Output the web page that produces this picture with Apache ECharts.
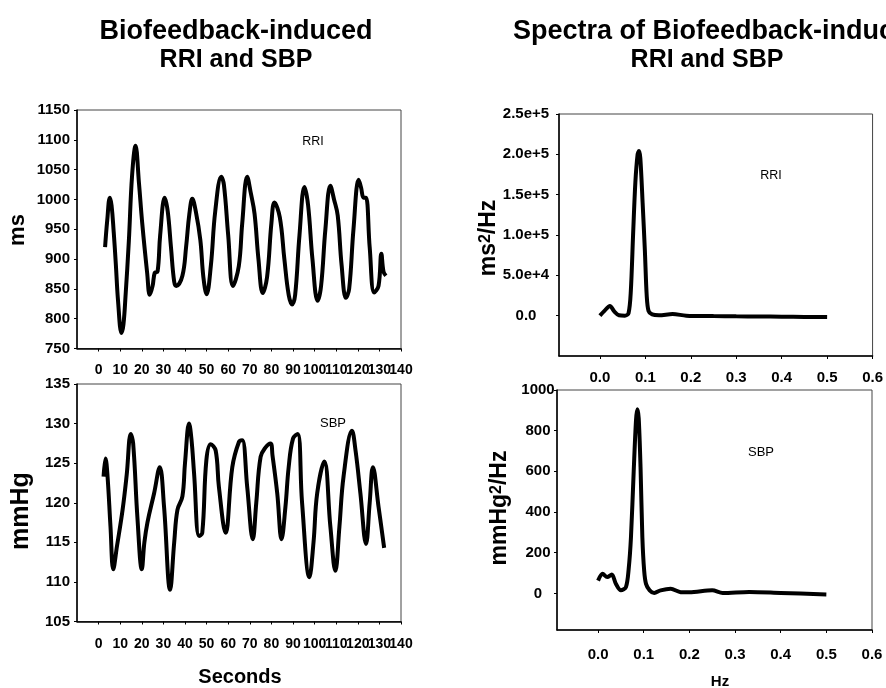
<!DOCTYPE html>
<html>
<head>
<meta charset="utf-8">
<script src="https://cdn.jsdelivr.net/npm/echarts@6/dist/echarts.min.js"></script>
<style>
html,body{margin:0;padding:0;background:#fff;}
#chart{width:886px;height:688px;}
</style>
</head>
<body>
<div id="chart"></div>
<script>
// ---- Data ----
const rriTime = [3,4,5.2,6,7,8,9,10.6,11.5,12.5,14,15.5,17.1,18.7,20.2,22.5,23.7,25,26,27.3,28.5,30.6,32,33.5,35,36,38.8,40.5,42,43.4,45,47.1,48.5,50,52,54,56.8,58,60,62.2,64.9,66.5,68.8,70.5,72.2,74,76,78,80,81.4,83.9,86,88,89.6,91,93,95.3,97,99,101.4,103,105,107.3,109,110.7,112.5,114.5,116,118,120.4,121.5,122.7,123.8,125.5,127.6,129.6,130.9,131.9,133];
const rriMs   = [920,965,1003,990,945,890,830,776,790,840,930,1040,1090,1027,960,876,840,855,877,879,940,1003,980,920,862,855,872,920,975,1001,980,932,870,841,890,980,1038,1025,940,855,888,960,1038,1010,976,900,843,870,960,995,970,900,840,824,840,940,1021,990,900,830,855,950,1023,1000,973,890,835,850,950,1033,1020,1003,1003,920,844,855,909,879,872];

const sbpTime = [2.3,3.2,4.1,5.5,6.8,8.5,11.1,13,14.9,16,18,20,21.2,22.6,25.7,28.3,30.3,33.1,35,36.5,38.8,40,41.9,43,44.2,46.5,48,49.9,51.9,54.2,55.7,58.8,61.9,65,66.5,68.8,71.4,73,75,77.3,79.6,80.5,82.7,84.7,86.5,88,90,92.2,94.2,97.6,99.5,101.2,104.5,107.3,109.6,111.5,113.4,117.3,119,121.2,123.8,125.5,127,129.6,132.2];
const sbpMmHg = [123.3,125.6,123.5,117,111.6,114.5,119.1,123.5,128.7,127.5,118,111.6,115,117.5,121.2,124.5,119.5,109,115,119.1,120.8,125,130,128,123.7,115.8,116.2,125.4,127.4,126.6,122,116.2,124.5,127.7,127.9,122,115.4,120,125.8,127,127.5,126,121.2,115.4,119.5,124.5,128.1,128.7,120,110.6,115,121.2,125.2,117,111.4,117,123.3,129.1,126.5,121.2,114.8,120,124.5,119.5,114.3];

const rriSpecHz  = [0,0.01,0.022,0.032,0.042,0.055,0.063,0.068,0.073,0.078,0.083,0.086,0.089,0.094,0.099,0.103,0.107,0.115,0.13,0.16,0.19,0.25,0.3,0.35,0.4,0.45,0.5];
const rriSpecPow = [0,6000,12000,5000,500,0,3000,30000,100000,165000,200000,204000,195000,140000,80000,25000,6000,1500,500,2000,0,-500,-800,-1000,-1200,-1500,-1800];

const sbpSpecHz  = [0,0.01,0.02,0.03,0.039,0.05,0.061,0.067,0.072,0.078,0.083,0.086,0.089,0.093,0.097,0.101,0.105,0.113,0.123,0.137,0.159,0.181,0.2,0.25,0.273,0.331,0.4,0.5];
const sbpSpecPow = [63,96,80,93,47,15,31,120,275,600,850,905,860,620,275,110,47,15,2,15,23,6,5,15,2,7,2,-5];

const timeTicks = [0,10,20,30,40,50,60,70,80,90,100,110,120,130,140];
const timeLabelsEven = [0,20,40,60,80,100,120,140];
const timeLabelsOdd = [10,30,50,70,90,110,130];
const hzTicks = [0,0.1,0.2,0.3,0.4,0.5,0.6];
const rriSpecTicks = [0,50000,100000,150000,200000,250000];
const sbpSpecTicks = [0,200,400,600,800,1000];

// ---- Chart ----
const FONT = 'Liberation Sans, Arial, sans-serif';
const zip = (a, b) => a.map((v, i) => [v, b[i]]);
const plain = v => String(v);
const labelStyle = (extra) => Object.assign({fontFamily: FONT, fontWeight: 'bold', fontSize: 15, color: '#000',
  showMinLabel: true, showMaxLabel: true, hideOverlap: false}, extra || {});
const axisLine = {show: true, onZero: false, lineStyle: {color: '#000', width: 1.5}};
const tick = {show: true, inside: false, length: 3, lineStyle: {color: '#000', width: 1}};

function sciFmt(v) {
  if (v === 0) return '0.0';
  const e = Math.floor(Math.log10(v) + 1e-9);
  const m = v / Math.pow(10, e);
  return m.toFixed(1) + 'e+' + e;
}

function timeAxes(gridIndex, margin) {
  return [
    {type: 'value', gridIndex, min: -10, max: 140, axisLine, splitLine: {show: false},
     axisTick: Object.assign({customValues: timeTicks}, tick),
     axisLabel: labelStyle({fontSize: 14, margin, customValues: timeLabelsEven, formatter: plain})},
    {type: 'value', gridIndex, min: -10, max: 140, position: 'bottom', axisLine: {show: false},
     axisTick: {show: false}, splitLine: {show: false},
     axisLabel: labelStyle({fontSize: 14, margin, customValues: timeLabelsOdd, formatter: plain})}
  ];
}

const chart = echarts.init(document.getElementById('chart'), null, {renderer: 'canvas'});

const gridCommon = {show: true, borderColor: '#444', borderWidth: 1, backgroundColor: 'transparent', containLabel: false};
const lineSt = {color: '#000', width: 4};

const xAxes = [].concat(
  timeAxes(0, 15),
  timeAxes(1, 16),
  [
    {type: 'value', gridIndex: 2, min: -0.09, max: 0.6, axisLine, splitLine: {show: false},
     axisTick: Object.assign({customValues: hzTicks}, tick),
     axisLabel: labelStyle({margin: 14, customValues: hzTicks, formatter: v => v.toFixed(1)})},
    {type: 'value', gridIndex: 3, min: -0.09, max: 0.6, axisLine, splitLine: {show: false},
     axisTick: Object.assign({customValues: hzTicks}, tick),
     axisLabel: labelStyle({margin: 17, customValues: hzTicks, formatter: v => v.toFixed(1)})}
  ]
);

const titleStyle = (size, align) => ({fontFamily: FONT, fontWeight: 'bold', fontSize: size, fill: '#000', align, verticalAlign: 'middle'});

const option = {
  animation: false,
  backgroundColor: '#fff',
  grid: [
    Object.assign({left: 77, top: 110, width: 324, height: 238.5}, gridCommon),
    Object.assign({left: 77, top: 384, width: 324, height: 237.5}, gridCommon),
    Object.assign({left: 559, top: 114, width: 314, height: 242}, gridCommon),
    Object.assign({left: 557, top: 390, width: 315, height: 240}, gridCommon)
  ],
  xAxis: xAxes,
  yAxis: [
    {type: 'value', gridIndex: 0, min: 750, max: 1150, interval: 50, axisLine, axisTick: tick, splitLine: {show: false},
     axisLabel: labelStyle({margin: 7, formatter: plain})},
    {type: 'value', gridIndex: 1, min: 105, max: 135, interval: 5, axisLine, axisTick: tick, splitLine: {show: false},
     axisLabel: labelStyle({margin: 7, formatter: plain})},
    {type: 'value', gridIndex: 2, min: -50000, max: 250000, axisLine, splitLine: {show: false},
     axisTick: Object.assign({customValues: rriSpecTicks}, tick),
     axisLabel: labelStyle({margin: 33, align: 'center', customValues: rriSpecTicks, formatter: sciFmt})},
    {type: 'value', gridIndex: 3, min: -180, max: 1000, axisLine, splitLine: {show: false},
     axisTick: Object.assign({customValues: sbpSpecTicks}, tick),
     axisLabel: labelStyle({margin: 19, align: 'center', customValues: sbpSpecTicks, formatter: plain})}
  ],
  series: [
    {type: 'line', xAxisIndex: 0, yAxisIndex: 0, data: zip(rriTime, rriMs), smooth: 0.4, showSymbol: false,
     lineStyle: lineSt, silent: true},
    {type: 'line', xAxisIndex: 2, yAxisIndex: 1, data: zip(sbpTime, sbpMmHg), smooth: 0.4, showSymbol: false,
     lineStyle: lineSt, silent: true},
    {type: 'line', xAxisIndex: 4, yAxisIndex: 2, data: zip(rriSpecHz, rriSpecPow), smooth: 0.3, showSymbol: false,
     lineStyle: lineSt, silent: true},
    {type: 'line', xAxisIndex: 5, yAxisIndex: 3, data: zip(sbpSpecHz, sbpSpecPow), smooth: 0.3, showSymbol: false,
     lineStyle: lineSt, silent: true}
  ],
  graphic: [
    {type: 'text', x: 236, y: 32, silent: true, style: Object.assign({text: 'Biofeedback-induced'}, titleStyle(27, 'center'))},
    {type: 'text', x: 236, y: 60, silent: true, style: Object.assign({text: 'RRI and SBP'}, titleStyle(25, 'center'))},
    {type: 'text', x: 513, y: 32, silent: true, style: Object.assign({text: 'Spectra of Biofeedback-induced'}, titleStyle(27, 'left'))},
    {type: 'text', x: 707, y: 60, silent: true, style: Object.assign({text: 'RRI and SBP'}, titleStyle(25, 'center'))},
    {type: 'text', x: 18, y: 230, rotation: Math.PI / 2, silent: true,
     style: {text: 'ms', align: 'center', verticalAlign: 'middle', fontFamily: FONT, fontWeight: 'bold', fontSize: 22, fill: '#000'}},
    {type: 'text', x: 21, y: 511, rotation: Math.PI / 2, silent: true,
     style: {text: 'mmHg', align: 'center', verticalAlign: 'middle', fontFamily: FONT, fontWeight: 'bold', fontSize: 25, fill: '#000'}},
    {type: 'text', x: 489, y: 238, rotation: Math.PI / 2, silent: true,
     style: {text: '{a|ms}{s|2}{a|/Hz}', align: 'center', verticalAlign: 'middle', fill: '#000',
             rich: {a: {fontFamily: FONT, fontWeight: 'bold', fontSize: 23, fill: '#000'},
                    s: {fontFamily: FONT, fontWeight: 'bold', fontSize: 16, fill: '#000', verticalAlign: 'top'}}}},
    {type: 'text', x: 500, y: 508, rotation: Math.PI / 2, silent: true,
     style: {text: '{a|mmHg}{s|2}{a|/Hz}', align: 'center', verticalAlign: 'middle', fill: '#000',
             rich: {a: {fontFamily: FONT, fontWeight: 'bold', fontSize: 23, fill: '#000'},
                    s: {fontFamily: FONT, fontWeight: 'bold', fontSize: 16, fill: '#000', verticalAlign: 'top'}}}},
    {type: 'text', x: 240, y: 677, silent: true,
     style: {text: 'Seconds', align: 'center', verticalAlign: 'middle', fontFamily: FONT, fontWeight: 'bold', fontSize: 20, fill: '#000'}},
    {type: 'text', x: 720, y: 682, silent: true,
     style: {text: 'Hz', align: 'center', verticalAlign: 'middle', fontFamily: FONT, fontWeight: 'bold', fontSize: 15, fill: '#000'}},
    {type: 'text', x: 313, y: 142, silent: true,
     style: {text: 'RRI', align: 'center', verticalAlign: 'middle', fontFamily: FONT, fontSize: 12.5, fill: '#000'}},
    {type: 'text', x: 333, y: 423, silent: true,
     style: {text: 'SBP', align: 'center', verticalAlign: 'middle', fontFamily: FONT, fontSize: 13, fill: '#000'}},
    {type: 'text', x: 771, y: 176, silent: true,
     style: {text: 'RRI', align: 'center', verticalAlign: 'middle', fontFamily: FONT, fontSize: 12.5, fill: '#000'}},
    {type: 'text', x: 761, y: 452, silent: true,
     style: {text: 'SBP', align: 'center', verticalAlign: 'middle', fontFamily: FONT, fontSize: 13, fill: '#000'}}
  ]
};

chart.setOption(option);
</script>
</body>
</html>
